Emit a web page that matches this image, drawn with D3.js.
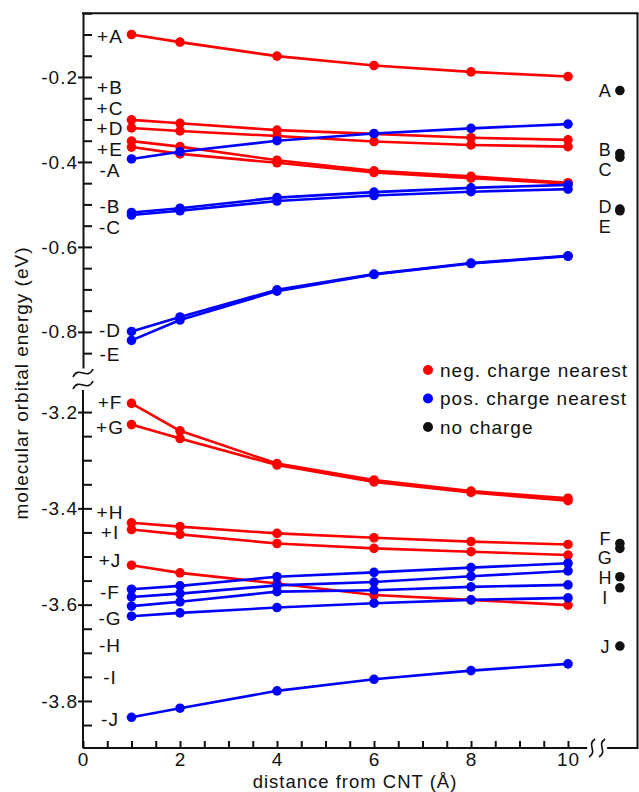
<!DOCTYPE html>
<html>
<head>
<meta charset="utf-8">
<script src="https://cdn.jsdelivr.net/npm/d3@7"></script>
<style>
  body { margin: 0; background: #fff; }
  svg text { font-family: "Liberation Sans", Arial, sans-serif; font-size: 19px; letter-spacing: 1px; fill: #111; }
</style>
</head>
<body>
<svg id="chart" width="639" height="792"></svg>
<script>
// distance of the charge from the CNT (Å)
const distances = [1, 2, 4, 6, 8, 10];

// molecular orbital energies (eV), neg. charge nearest: +A .. +E
const negUpper = [
  [-0.100, -0.118, -0.151, -0.173, -0.188, -0.199],
  [-0.301, -0.309, -0.325, -0.334, -0.343, -0.348],
  [-0.320, -0.327, -0.339, -0.352, -0.360, -0.364],
  [-0.351, -0.364, -0.396, -0.421, -0.434, -0.449],
  [-0.365, -0.381, -0.402, -0.425, -0.438, -0.451]
];
// pos. charge nearest: -A .. -E
const posUpper = [
  [-0.393, -0.376, -0.350, -0.333, -0.321, -0.311],
  [-0.519, -0.509, -0.484, -0.471, -0.461, -0.454],
  [-0.525, -0.515, -0.492, -0.479, -0.470, -0.464],
  [-0.799, -0.765, -0.701, -0.664, -0.638, -0.621],
  [-0.820, -0.772, -0.704, -0.665, -0.639, -0.622]
];
// neg. charge nearest: +F .. +J
const negLower = [
  [-3.182, -3.239, -3.307, -3.341, -3.364, -3.379],
  [-3.226, -3.255, -3.310, -3.345, -3.367, -3.384],
  [-3.430, -3.438, -3.452, -3.461, -3.469, -3.475],
  [-3.444, -3.454, -3.473, -3.483, -3.490, -3.497],
  [-3.518, -3.534, -3.556, -3.580, -3.590, -3.601]
];
// pos. charge nearest: -F .. -J
const posLower = [
  [-3.568, -3.561, -3.542, -3.533, -3.523, -3.514],
  [-3.584, -3.577, -3.560, -3.553, -3.541, -3.530],
  [-3.603, -3.594, -3.573, -3.570, -3.563, -3.559],
  [-3.624, -3.617, -3.606, -3.597, -3.590, -3.586],
  [-3.834, -3.815, -3.779, -3.755, -3.737, -3.723]
];
// no charge: A .. E and F .. J
const noChargeUpper = [-0.232, -0.380, -0.389, -0.511, -0.515];
const noChargeLower = [-3.473, -3.483, -3.542, -3.565, -3.686];

// level names next to the curves and next to the no-charge column
const leftLabelsUpper = ["+A", "+B", "+C", "+D", "+E", "-A", "-B", "-C", "-D", "-E"];
const leftLabelPosUpper = [-0.104, -0.224, -0.273, -0.321, -0.371, -0.420, -0.504, -0.554, -0.797, -0.854];
const leftLabelsLower = ["+F", "+G", "+H", "+I", "+J", "-F", "-G", "-H", "-I", "-J"];
const leftLabelPosLower = [-3.179, -3.231, -3.408, -3.449, -3.509, -3.575, -3.629, -3.685, -3.750, -3.838];
const rightLabelsUpper = ["A", "B", "C", "D", "E"];
const rightLabelPosUpper = [-0.232, -0.371, -0.419, -0.505, -0.552];
const rightLabelsLower = ["F", "G", "H", "I", "J"];
const rightLabelPosLower = [-3.462, -3.503, -3.545, -3.586, -3.688];

// axis ticks
const xTickValues = [0, 2, 4, 6, 8, 10];
const yMajorUpper = [-0.2, -0.4, -0.6, -0.8];
const yMajorLower = [-3.2, -3.4, -3.6, -3.8];

const legendLabels = ["neg. charge nearest", "pos. charge nearest", "no charge"];
const RED = "#ff0000", BLUE = "#0000ff", BLACK = "#111111";
const legendColors = [RED, BLUE, BLACK];

// layout
const frameLeft = 83, frameRight = 637.5, frameTop = 13.3, frameBottom = 748;
const noChargeColumn = 11.07;   // x position of the no-charge column, past the axis break
const rightLabelColumn = 10.75;
const xBreak = 10.6;

const svg = d3.select("#chart");

const x = d3.scaleLinear().domain([0, 10]).range([frameLeft, 568]);
const yUp = d3.scaleLinear().domain([-0.05, -0.885]).range([13.25, 368]);
const yLo = d3.scaleLinear().domain([-3.15, -3.9]).range([388, 749.1]);

const styleAxis = g => {
  g.attr("font-family", null).attr("font-size", null);
  g.selectAll("path.domain").attr("stroke", "#111").attr("stroke-width", 2);
  g.selectAll(".tick line").attr("stroke", "#111").attr("stroke-width", 2);
  g.selectAll(".tick text").attr("fill", "#111");
};

// y axis, upper segment: inner minor ticks + axis line
svg.append("g").attr("transform", `translate(${frameLeft},0)`)
  .call(d3.axisRight(yUp).tickValues(d3.range(-0.85, -0.04, 0.05)).tickSize(9).tickSizeOuter(0).tickFormat(""))
  .call(styleAxis);
svg.append("g").attr("transform", `translate(${frameLeft},0)`)
  .call(d3.axisLeft(yUp).tickValues(yMajorUpper).tickSize(5).tickSizeOuter(0).tickPadding(0).tickFormat(d => d.toFixed(1)))
  .call(g => g.select(".domain").remove())
  .call(styleAxis);

// y axis, lower segment
svg.append("g").attr("transform", `translate(${frameLeft},0)`)
  .call(d3.axisRight(yLo).tickValues(d3.range(-3.85, -3.16, 0.05)).tickSize(9).tickSizeOuter(0).tickFormat(""))
  .call(g => g.select(".domain").remove())
  .call(styleAxis);
svg.append("g").attr("transform", `translate(${frameLeft},0)`)
  .call(d3.axisLeft(yLo).tickValues(yMajorLower).tickSize(5).tickSizeOuter(0).tickPadding(0).tickFormat(d => d.toFixed(1)))
  .call(g => g.select(".domain").remove())
  .call(styleAxis);
svg.append("line").attr("x1", frameLeft).attr("x2", frameLeft).attr("y1", 390).attr("y2", frameBottom)
  .attr("stroke", "#111").attr("stroke-width", 2);

// x axis ticks and labels
svg.append("g").attr("transform", `translate(0,${frameBottom})`)
  .call(d3.axisTop(x).tickValues(d3.range(0, 10.01, 0.5)).tickSize(7).tickSizeOuter(0).tickFormat(""))
  .call(g => g.select(".domain").remove())
  .call(styleAxis);
svg.append("g").attr("transform", `translate(0,${frameBottom})`)
  .call(d3.axisBottom(x).tickValues(xTickValues).tickSize(0).tickPadding(5).tickFormat(d3.format("d")))
  .call(g => g.select(".domain").remove())
  .call(styleAxis);

// frame: bottom axis with a break, top and right borders
const frame = svg.append("g").attr("fill", "none").attr("stroke", "#111").attr("stroke-width", 2);
frame.append("path").attr("d", `M${frameLeft},${frameBottom}H${x(xBreak) - 10}`);
frame.append("path").attr("d", `M${x(xBreak) + 10},${frameBottom}H${frameRight}`);
frame.append("path").attr("d", `M${frameLeft - 1},${frameTop}H${frameRight + 1}`);
frame.append("path").attr("d", `M${frameRight},${frameTop}V${frameBottom + 1}`);

// break marks on the x axis
[x(xBreak) - 5, x(xBreak) + 5].forEach(cx => {
  frame.append("path").attr("stroke-width", 1.6)
    .attr("d", `M${cx + 3},${frameBottom - 9} C${cx - 6},${frameBottom - 3} ${cx + 6},${frameBottom + 3} ${cx - 3},${frameBottom + 9}`);
});
// break marks on the y axis
[373, 385].forEach(cy => {
  frame.append("path").attr("stroke-width", 1.6)
    .attr("d", `M${frameLeft - 10},${cy + 4} C${frameLeft - 4},${cy - 8} ${frameLeft + 4},${cy + 8} ${frameLeft + 10},${cy - 4}`);
});

// series
const plot = svg.append("g");
function drawSeries(values, yScale, color) {
  const line = d3.line().x((d, i) => x(distances[i])).y(d => yScale(d));
  plot.append("path").attr("d", line(values))
    .attr("fill", "none").attr("stroke", color).attr("stroke-width", 2.6).attr("stroke-linejoin", "round");
  plot.append("g").selectAll("circle").data(values).join("circle")
    .attr("cx", (d, i) => x(distances[i])).attr("cy", d => yScale(d)).attr("r", 4.8).attr("fill", color);
}
negUpper.forEach(s => drawSeries(s, yUp, RED));
negLower.forEach(s => drawSeries(s, yLo, RED));
posUpper.forEach(s => drawSeries(s, yUp, BLUE));
posLower.forEach(s => drawSeries(s, yLo, BLUE));

// no-charge column
plot.append("g").selectAll("circle").data(noChargeUpper).join("circle")
  .attr("cx", x(noChargeColumn)).attr("cy", d => yUp(d)).attr("r", 4.8).attr("fill", BLACK);
plot.append("g").selectAll("circle").data(noChargeLower).join("circle")
  .attr("cx", x(noChargeColumn)).attr("cy", d => yLo(d)).attr("r", 4.8).attr("fill", BLACK);

// level labels
const labels = svg.append("g").attr("text-anchor", "middle");
function addLabels(names, pos, yScale, cx, size) {
  labels.append("g").selectAll("text").data(names).join("text")
    .attr("x", cx).attr("y", (d, i) => yScale(pos[i])).attr("dy", "0.35em")
    .style("font-size", size + "px").text(d => d);
}
addLabels(leftLabelsUpper, leftLabelPosUpper, yUp, 110, 19);
addLabels(leftLabelsLower, leftLabelPosLower, yLo, 110, 19);
addLabels(rightLabelsUpper, rightLabelPosUpper, yUp, x(rightLabelColumn) + 1, 18);
addLabels(rightLabelsLower, rightLabelPosLower, yLo, x(rightLabelColumn) + 1, 18);

// legend
const legend = svg.append("g").attr("transform", "translate(428,370)");
legendLabels.forEach((t, i) => {
  const row = legend.append("g").attr("transform", `translate(0,${i * 28.5})`);
  row.append("circle").attr("r", 5).attr("fill", legendColors[i]);
  row.append("text").attr("x", 12).attr("dy", "0.35em").text(t);
});

// axis titles
svg.append("text").attr("x", 355).attr("y", 787.5).attr("text-anchor", "middle")
  .style("font-size", "18.5px")
  .text("distance from CNT (Å)");
svg.append("text").attr("transform", "translate(28,383) rotate(-90)").attr("text-anchor", "middle")
  .text("molecular orbital energy (eV)");
</script>
</body>
</html>
